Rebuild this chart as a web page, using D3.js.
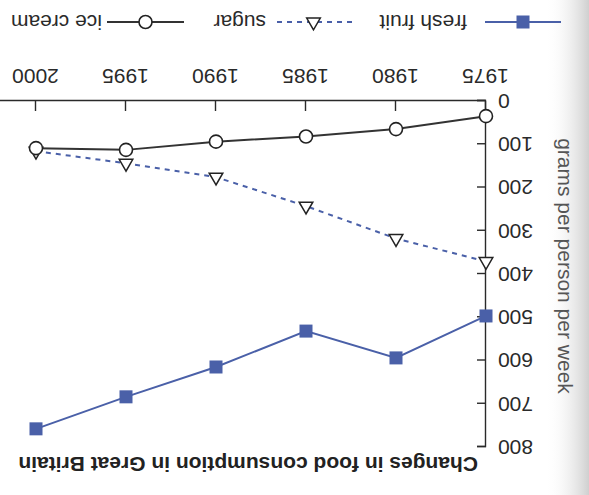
<!DOCTYPE html>
<html lang="en">
<head>
  <meta charset="UTF-8">
  <title>Changes in food consumption in Great Britain</title>
  <script src="https://d3js.org/d3.v7.min.js"></script>
  <style>
    body { margin: 0; background: #fff; }
    svg { display: block; font-family: "Liberation Sans", Arial, Helvetica, sans-serif; }
    .axis path, .axis line { stroke: #2a2a2a; stroke-width: 1.4; }
    .axis text { fill: #2a2a2a; font-size: 21px; }
  </style>
</head>
<body>
  <script>
    const years = [1975, 1980, 1985, 1990, 1995, 2000];
    const freshFruit = [497, 594, 532, 615, 684, 758];
    const sugar = [371, 318, 243, 176, 144, 116];
    const iceCream = [35, 65, 82, 94, 113, 109];
    const yTicks = [0, 100, 200, 300, 400, 500, 600, 700, 800];
    const seriesNames = ["fresh fruit", "sugar", "ice cream"];

    const W = 589, H = 495;
    const blue = "#4a60a8";

    const svg = d3.select("body").append("svg")
      .attr("width", W)
      .attr("height", H);

    // scan shadow on the right edge of the page
    const defs = svg.append("defs");
    const grad = defs.append("linearGradient").attr("id", "shade")
      .attr("x1", "0").attr("x2", "1").attr("y1", "0").attr("y2", "0");
    grad.append("stop").attr("offset", "0").attr("stop-color", "#fff").attr("stop-opacity", 0);
    grad.append("stop").attr("offset", "1").attr("stop-color", "#cfcfcf").attr("stop-opacity", 1);
    svg.append("rect").attr("x", 545).attr("y", 0).attr("width", 44).attr("height", H)
      .attr("fill", "url(#shade)");

    // whole chart is printed upside down
    const g = svg.append("g").attr("transform", `rotate(180, ${W / 2}, ${H / 2})`);

    const x = d3.scaleLinear().domain([1975, 2002]).range([103, 589]);
    const y = d3.scaleLinear().domain([0, 800]).range([394, 48]);

    g.append("g")
      .attr("class", "axis")
      .attr("transform", `translate(0,${y(0)})`)
      .call(d3.axisBottom(x).tickValues(years).tickFormat(d3.format("d"))
        .tickSizeInner(-10).tickSizeOuter(0).tickPadding(17));

    g.append("g")
      .attr("class", "axis")
      .attr("transform", `translate(${x(1975)},0)`)
      .call(d3.axisLeft(y).tickValues(yTicks)
        .tickSizeInner(-9).tickSizeOuter(-9).tickPadding(12));

    // title
    g.append("text")
      .attr("x", 111)
      .attr("y", 38)
      .attr("font-size", "21px")
      .attr("font-weight", "bold")
      .attr("fill", "#222")
      .text("Changes in food consumption in Great Britain");

    // y axis label
    g.append("text")
      .attr("transform", "translate(31,229) rotate(-90)")
      .attr("text-anchor", "middle")
      .attr("font-size", "21px")
      .attr("fill", "#555")
      .text("grams per person per week");

    const line = d3.line()
      .x((d, i) => x(years[i]))
      .y(d => y(d));

    // lines
    g.append("path").datum(freshFruit)
      .attr("d", line).attr("fill", "none")
      .attr("stroke", blue).attr("stroke-width", 2);

    g.append("path").datum(sugar)
      .attr("d", line).attr("fill", "none")
      .attr("stroke", blue).attr("stroke-width", 2)
      .attr("stroke-dasharray", "5,5");

    g.append("path").datum(iceCream)
      .attr("d", line).attr("fill", "none")
      .attr("stroke", "#333").attr("stroke-width", 2);

    // markers
    const sq = 13;
    g.selectAll(".fruit").data(freshFruit).enter().append("rect")
      .attr("x", (d, i) => x(years[i]) - sq / 2)
      .attr("y", d => y(d) - sq / 2)
      .attr("width", sq).attr("height", sq)
      .attr("fill", blue);

    const tri = d3.symbol().type(d3.symbolTriangle).size(80);
    g.selectAll(".sugar").data(sugar).enter().append("path")
      .attr("d", tri)
      .attr("transform", (d, i) => `translate(${x(years[i])},${y(d)})`)
      .attr("fill", "#fff").attr("stroke", "#222").attr("stroke-width", 1.5);

    g.selectAll(".ice").data(iceCream).enter().append("circle")
      .attr("cx", (d, i) => x(years[i]))
      .attr("cy", d => y(d))
      .attr("r", 6.5)
      .attr("fill", "#fff").attr("stroke", "#222").attr("stroke-width", 1.6);

    // legend
    const ly = 473;
    const legend = [
      { x0: 28, x1: 104, tx: 122, kind: "square", color: blue, dash: null },
      { x0: 237, x1: 314, tx: 323, kind: "triangle", color: blue, dash: "5,5" },
      { x0: 405, x1: 482, tx: 487, kind: "circle", color: "#333", dash: null }
    ];
    legend.forEach((l, i) => {
      g.append("line")
        .attr("x1", l.x0).attr("x2", l.x1).attr("y1", ly).attr("y2", ly)
        .attr("stroke", l.color).attr("stroke-width", 2)
        .attr("stroke-dasharray", l.dash);
      const cx = (l.x0 + l.x1) / 2;
      if (l.kind === "square") {
        g.append("rect").attr("x", cx - sq / 2).attr("y", ly - sq / 2)
          .attr("width", sq).attr("height", sq).attr("fill", blue);
      } else if (l.kind === "triangle") {
        g.append("path").attr("d", tri)
          .attr("transform", `translate(${cx},${ly})`)
          .attr("fill", "#fff").attr("stroke", "#222").attr("stroke-width", 1.5);
      } else {
        g.append("circle").attr("cx", cx).attr("cy", ly).attr("r", 6.5)
          .attr("fill", "#fff").attr("stroke", "#222").attr("stroke-width", 1.6);
      }
      g.append("text")
        .attr("x", l.tx).attr("y", ly + 7)
        .attr("font-size", "21px")
        .attr("fill", "#2a2a2a")
        .text(seriesNames[i]);
    });
  </script>
</body>
</html>
